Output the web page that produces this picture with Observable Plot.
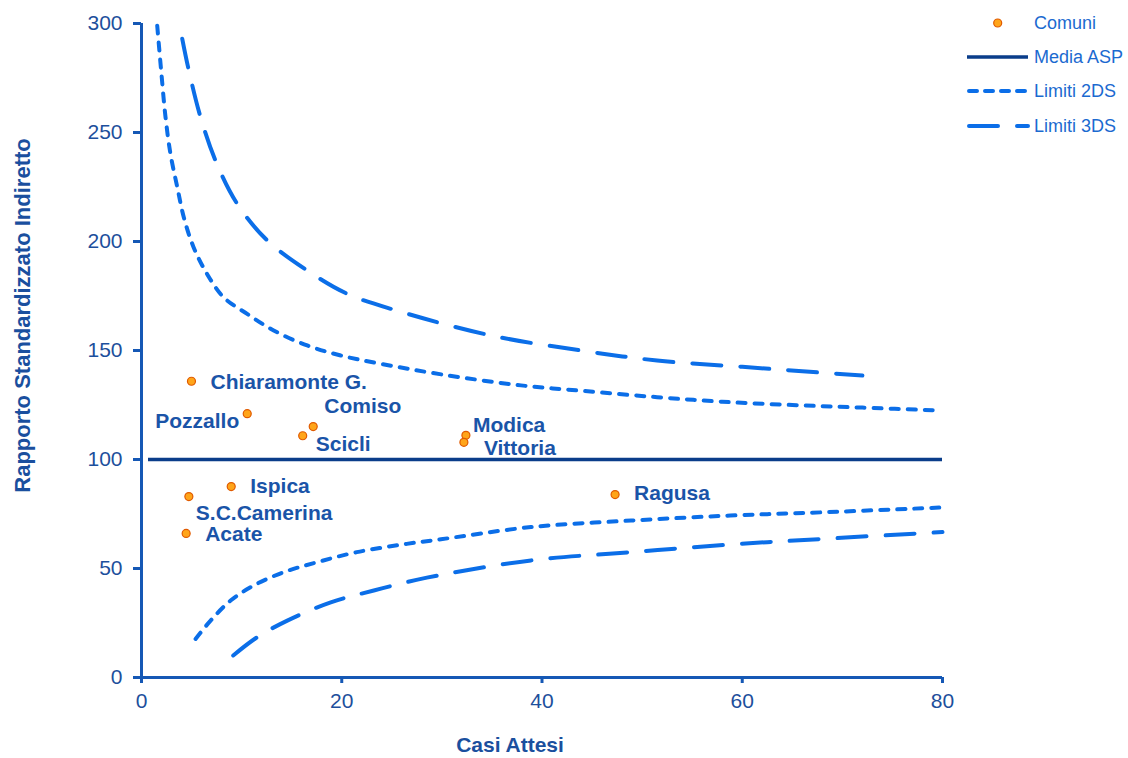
<!DOCTYPE html>
<html><head><meta charset="utf-8">
<script src="https://cdn.jsdelivr.net/npm/d3@7"></script>
<script src="https://cdn.jsdelivr.net/npm/@observablehq/plot@0.6"></script>
<style>
body{margin:0;background:#fff;}
#wrap{position:relative;width:1128px;height:758px;font-family:"Liberation Sans",Arial,sans-serif;}
#legend{position:absolute;left:950px;top:0;}
</style></head><body><div id="wrap"></div>
<script>
// ---- data ----
const comuni = ["Chiaramonte G.","Pozzallo","Comiso","Scicli","Modica","Vittoria","Ispica","S.C.Camerina","Acate","Ragusa"];
const casiAttesi = [4.99,10.56,17.15,16.1,32.4,32.2,8.96,4.73,4.46,47.3];
const rsi = [135.9,121,115.1,110.9,111.1,107.9,87.6,83,66.1,83.9];
const mediaASP = 100;
const mediaRange = [0.7, 80];

const lim2SupX = [1.57,1.97,2.4,2.9,3.57,4.23,5.2,6.56,8.2,10.55,13.2,16.55,19.9,23.9,30,37.9,44,51.5,58,65,72,79.8];
const lim2SupY = [299,278,257,240,225,211,197.4,185,174.4,166.8,159.2,152.3,147.7,143.9,139,134,131.5,128.6,126.5,125,123.8,122.5];
const lim2InfX = [5.4,6.9,8.9,11.2,14.2,17.55,21.5,26.5,29.9,38.9,48.9,58.8,68.1,80];
const lim2InfY = [17.7,26.1,35.3,42.2,48.3,52.9,57.5,61.3,63.4,69,72,74.3,75.8,78];
const lim3SupX = [4.07,4.73,5.9,7.4,9.56,12.56,16.55,20.55,25.5,34.9,43.9,51.5,60,66,72];
const lim3SupY = [293,278.4,257,237,217.3,200.5,186.7,176,168.3,156.9,150,145.4,142.5,140.5,138.5];
const lim3InfX = [9.16,11.56,14.56,18.9,23.2,28.5,38.9,48.9,58.8,68.1,80];
const lim3InfY = [10.1,18.5,26.1,34.5,39.9,45.8,53.7,57.5,61,63.6,66.7];

const xTicks = [0,20,40,60,80];
const yTicks = [0,50,100,150,200,250,300];
const xLabel = "Casi Attesi";
const yLabel = "Rapporto Standardizzato Indiretto";
const legendLabels = ["Comuni","Media ASP","Limiti 2DS","Limiti 3DS"];

// ---- styles ----
const axisColor = "#1558b5";
const tickColor = "#1d4f9c";
const titleColor = "#1a4f9e";
const labelColor = "#1a54a8";
const mediaColor = "#0a3d8a";
const limColor = "#0b6ee8";
const ptFill = "#ffa51a";
const ptStroke = "#e05a00";
const legendText = "#1b6ad0";
const dash2 = "8,9";
const dash3 = "29,19";

// label placement (style)
const labelPlace = {
  "Chiaramonte G.": {dx:19, dy:1, anchor:"start"},
  "Pozzallo": {dx:-8, dy:8, anchor:"end"},
  "Comiso": {dx:11, dy:-20, anchor:"start"},
  "Scicli": {dx:13, dy:9, anchor:"start"},
  "Modica": {dx:7, dy:-10, anchor:"start"},
  "Vittoria": {dx:20, dy:6, anchor:"start"},
  "Ispica": {dx:19, dy:0, anchor:"start"},
  "S.C.Camerina": {dx:7, dy:17, anchor:"start"},
  "Acate": {dx:19, dy:1, anchor:"start"},
  "Ragusa": {dx:19, dy:-1, anchor:"start"}
};

const pts = comuni.map((c,i)=>({comune:c, x:casiAttesi[i], y:rsi[i]}));
const rows = (xs, ys) => xs.map((x,i)=>({x, y:ys[i]}));
const lineOpts = (dash) => ({x:"x", y:"y", stroke:limColor, strokeWidth:4, strokeDasharray:dash, strokeLinecap:"round", curve:"catmull-rom"});

const labelMarks = pts.map(p => {
  const s = labelPlace[p.comune];
  return Plot.text([p], {x:"x", y:"y", text:"comune", dx:s.dx, dy:s.dy, textAnchor:s.anchor,
    fill:labelColor, fontWeight:"bold", fontSize:21});
});

const chart = Plot.plot({
  width:1128, height:758,
  marginLeft:141, marginRight:186, marginTop:23, marginBottom:81,
  style:{fontFamily:'"Liberation Sans", Arial, sans-serif', fontSize:"21px", background:"#fff"},
  x:{domain:[0,80], axis:null},
  y:{domain:[0,300], axis:null},
  marks:[
    Plot.line(rows(lim2SupX, lim2SupY), lineOpts(dash2)),
    Plot.line(rows(lim2InfX, lim2InfY), lineOpts(dash2)),
    Plot.line(rows(lim3SupX, lim3SupY), lineOpts(dash3)),
    Plot.line(rows(lim3InfX, lim3InfY), lineOpts(dash3)),
    Plot.ruleY([{y:mediaASP, x1:mediaRange[0], x2:mediaRange[1]}], {y:"y", x1:"x1", x2:"x2", stroke:mediaColor, strokeWidth:3.5}),
    Plot.axisX({ticks:xTicks, tickSize:6, tickPadding:10, stroke:axisColor, strokeWidth:3, fill:tickColor, label:null, fontSize:21}),
    Plot.axisY({ticks:yTicks, tickSize:8, tickPadding:11, stroke:axisColor, strokeWidth:3, fill:tickColor, label:null, fontSize:21}),
    Plot.ruleX([0], {stroke:axisColor, strokeWidth:3}),
    Plot.ruleY([0], {stroke:axisColor, strokeWidth:3}),
    Plot.dot(pts, {x:"x", y:"y", r:4, fill:ptFill, stroke:ptStroke, strokeWidth:1.2}),
    ...labelMarks,
    Plot.text([xLabel], {frameAnchor:"bottom", lineAnchor:"middle", textAnchor:"middle", dx:-32, dy:68, fill:titleColor, fontWeight:"bold", fontSize:21}),
    Plot.text([yLabel], {frameAnchor:"left", lineAnchor:"middle", textAnchor:"middle", rotate:-90, dx:-119, dy:-35, fill:titleColor, fontWeight:"bold", fontSize:22})
  ]
});
const wrap = document.getElementById("wrap");
wrap.appendChild(chart);

// ---- legend ----
const lg = d3.select(wrap).append("svg").attr("id","legend").attr("width",178).attr("height",140)
  .style("font-family",'"Liberation Sans", Arial, sans-serif');
const rowsY = [23, 57, 91, 126];
lg.append("circle").attr("cx",47.7).attr("cy",rowsY[0]).attr("r",4).attr("fill",ptFill).attr("stroke",ptStroke).attr("stroke-width",1.2);
lg.append("line").attr("x1",17).attr("x2",78).attr("y1",rowsY[1]).attr("y2",rowsY[1]).attr("stroke",mediaColor).attr("stroke-width",3.5);
lg.append("line").attr("x1",19).attr("x2",78).attr("y1",rowsY[2]).attr("y2",rowsY[2]).attr("stroke",limColor).attr("stroke-width",4).attr("stroke-linecap","round").attr("stroke-dasharray","8,8");
lg.append("line").attr("x1",19).attr("x2",78).attr("y1",rowsY[3]).attr("y2",rowsY[3]).attr("stroke",limColor).attr("stroke-width",4).attr("stroke-linecap","round").attr("stroke-dasharray","29,19");
legendLabels.forEach((t,i)=>{
  lg.append("text").attr("x",84).attr("y",rowsY[i]).attr("dy","0.35em").attr("fill",legendText).attr("font-size",18).text(t);
});
</script>
</body></html>
